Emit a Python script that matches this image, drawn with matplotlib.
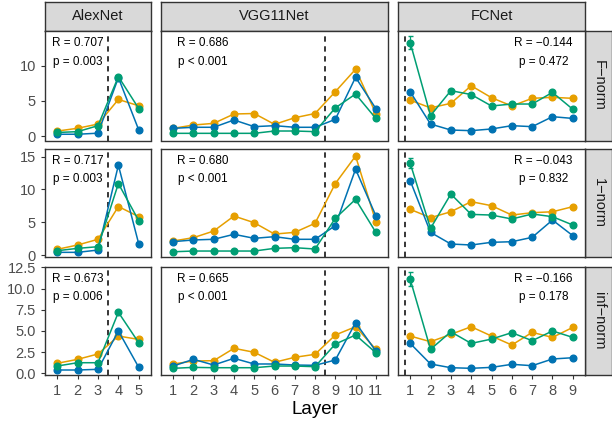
import numpy as np
import matplotlib
matplotlib.use("Agg")
import matplotlib.pyplot as plt

plt.rcParams['font.family'] = ['Liberation Sans', 'DejaVu Sans']

# === DATA ===
nets = ["AlexNet", "VGG11Net", "FCNet"]
norms = ["F\u2212norm", "1\u2212norm", "inf\u2212norm"]
layers_alex = [1, 2, 3, 4, 5]
layers_vgg = [1, 2, 3, 4, 5, 6, 7, 8, 9, 10, 11]
layers_fc = [1, 2, 3, 4, 5, 6, 7, 8, 9]

# F-norm
f_alex_blue = [0.25, 0.25, 0.4, 8.3, 0.85]
f_alex_orange = [0.7, 1.1, 1.7, 5.2, 4.3]
f_alex_green = [0.5, 0.62, 1.47, 8.45, 3.9]
f_vgg_blue = [1.09, 1.24, 1.24, 2.28, 1.33, 1.47, 1.24, 1.24, 2.37, 8.35, 3.9]
f_vgg_orange = [1.09, 1.56, 1.8, 3.13, 3.2, 1.66, 2.6, 3.2, 6.3, 9.5, 3.2]
f_vgg_green = [0.38, 0.38, 0.38, 0.38, 0.38, 0.71, 0.71, 0.62, 4.0, 5.97, 2.5]
f_fc_blue = [6.3, 1.7, 0.85, 0.76, 1.0, 1.47, 1.33, 2.75, 2.5]
f_fc_orange = [5.1, 4.0, 4.65, 7.15, 5.45, 4.27, 5.36, 5.5, 5.36]
f_fc_green = [13.3, 2.9, 6.45, 5.9, 4.27, 4.55, 4.55, 6.2, 3.8]

# 1-norm
o_alex_blue = [0.41, 0.41, 0.76, 13.7, 1.68]
o_alex_orange = [0.87, 1.53, 2.4, 7.4, 5.85]
o_alex_green = [0.66, 1.02, 1.27, 10.9, 5.24]
o_vgg_blue = [2.04, 2.3, 2.4, 3.16, 2.55, 2.8, 2.4, 2.4, 4.48, 13.1, 6.0]
o_vgg_orange = [2.14, 2.65, 3.66, 5.95, 4.93, 3.2, 3.46, 4.84, 10.9, 15.1, 5.1]
o_vgg_green = [0.5, 0.61, 0.61, 0.61, 0.61, 1.02, 1.12, 0.92, 5.6, 8.5, 3.46]
o_fc_blue = [11.35, 3.46, 1.68, 1.53, 1.94, 2.03, 2.7, 5.34, 2.95]
o_fc_orange = [6.97, 5.7, 6.6, 8.14, 7.53, 6.1, 6.46, 6.6, 7.38]
o_fc_green = [14.0, 4.07, 9.3, 6.2, 6.1, 5.5, 6.26, 5.85, 4.58]

# inf-norm
i_alex_blue = [0.39, 0.39, 0.47, 5.0, 0.7]
i_alex_orange = [1.18, 1.65, 2.28, 4.4, 4.0]
i_alex_green = [0.86, 1.25, 1.25, 7.2, 3.6]
i_vgg_blue = [0.86, 1.65, 0.98, 1.77, 1.1, 1.1, 0.98, 0.94, 1.57, 5.97, 2.63]
i_vgg_orange = [1.1, 1.45, 1.49, 2.95, 2.48, 1.3, 1.89, 2.24, 4.52, 5.5, 2.83]
i_vgg_green = [0.59, 0.7, 0.66, 0.66, 0.66, 0.86, 0.86, 0.78, 3.45, 4.52, 2.43]
i_fc_blue = [3.53, 1.1, 0.66, 0.59, 0.7, 1.06, 0.9, 1.69, 1.84]
i_fc_orange = [4.4, 3.73, 4.6, 5.5, 4.4, 3.34, 4.83, 4.24, 5.42]
i_fc_green = [11.1, 2.83, 4.9, 3.53, 4.04, 4.8, 3.85, 5.0, 4.24]

# error bar on first FCNet layer (green), per norm
fc_green_err = [0.9, 0.75, 0.85]

r_values = [["0.707", "0.686", "\u22120.144"],
            ["0.717", "0.680", "\u22120.043"],
            ["0.673", "0.665", "\u22120.166"]]
p_values = [["= 0.003", "< 0.001", "= 0.472"],
            ["= 0.003", "< 0.001", "= 0.832"],
            ["= 0.006", "< 0.001", "= 0.178"]]

layers = [layers_alex, layers_vgg, layers_fc]
series = [
    [(f_alex_orange, f_alex_blue, f_alex_green), (f_vgg_orange, f_vgg_blue, f_vgg_green), (f_fc_orange, f_fc_blue, f_fc_green)],
    [(o_alex_orange, o_alex_blue, o_alex_green), (o_vgg_orange, o_vgg_blue, o_vgg_green), (o_fc_orange, o_fc_blue, o_fc_green)],
    [(i_alex_orange, i_alex_blue, i_alex_green), (i_vgg_orange, i_vgg_blue, i_vgg_green), (i_fc_orange, i_fc_blue, i_fc_green)],
]
colors = ["#E69F00", "#0072B2", "#009E73"]

# === LAYOUT (pixels) ===
W, H = 612, 425
col_px = [(45, 151), (161, 388), (398, 585)]
row_px = [(31, 140.5), (149.3, 257), (267, 375)]
strip_top = (2, 31)
strip_right = (585, 612)
xlims = [(0.4, 5.6), (0.4, 11.6), (0.4, 9.6)]
vlines = [3.5, 8.5, 0.75]
ylims = [(-0.64, 14.94), (-0.3, 16.13), (-0.2, 12.55)]
yticks = [[0, 5, 10], [0, 5, 10, 15], [0, 2.5, 5, 7.5, 10, 12.5]]
ytick_labels = [["0", "5", "10"], ["0", "5", "10", "15"],
                ["0.0", "2.5", "5.0", "7.5", "10.0", "12.5"]]
text_x = [2.0, 2.45, 7.55]

dark = "#333333"
grey_txt = "#4D4D4D"


def rect(x0, x1, y0, y1):
    return [x0 / W, 1 - y1 / H, (x1 - x0) / W, (y1 - y0) / H]


fig = plt.figure(figsize=(W / 100, H / 100), dpi=100)

# strips on top
for c, net in enumerate(nets):
    sa = fig.add_axes(rect(col_px[c][0], col_px[c][1], strip_top[0], strip_top[1]))
    sa.set_facecolor("#D9D9D9")
    sa.set_xticks([]); sa.set_yticks([])
    for s in sa.spines.values():
        s.set_color(dark); s.set_linewidth(1.0)
    sa.text(0.5, 0.5, net, ha="center", va="center", fontsize=10.5, color="#1A1A1A",
            transform=sa.transAxes)

# strips on right
for r, nm in enumerate(norms):
    sa = fig.add_axes(rect(strip_right[0], strip_right[1], row_px[r][0], row_px[r][1]))
    sa.set_facecolor("#D9D9D9")
    sa.set_xticks([]); sa.set_yticks([])
    for s in sa.spines.values():
        s.set_color(dark); s.set_linewidth(1.0)
    sa.text(0.5, 0.5, nm, ha="center", va="center", fontsize=10.5, color="#1A1A1A",
            rotation=-90, transform=sa.transAxes)

for r in range(3):
    for c in range(3):
        ax = fig.add_axes(rect(col_px[c][0], col_px[c][1], row_px[r][0], row_px[r][1]))
        x = layers[c]
        for vals, col in zip(series[r][c], colors):
            ax.plot(x, vals, color=col, lw=1.1, marker="o", markersize=4.8, zorder=3)
        if c == 2:
            ax.errorbar(x[0], series[r][c][2][0], yerr=fc_green_err[r], color=colors[2],
                        lw=0.9, capsize=1.8, zorder=3)
        ax.axvline(vlines[c], color="black", lw=1.1, ls=(0, (3.5, 3)), zorder=2)
        ax.set_xlim(*xlims[c])
        ax.set_ylim(*ylims[r])
        ax.set_xticks(x)
        ax.set_yticks(yticks[r])
        ax.tick_params(colors=dark, labelcolor=grey_txt, labelsize=10.5, length=3, width=0.8)
        if r < 2:
            ax.tick_params(axis="x", length=0, labelbottom=False)
        if c > 0:
            ax.tick_params(axis="y", length=0, labelleft=False)
        else:
            ax.set_yticklabels(ytick_labels[r])
        for s in ax.spines.values():
            s.set_color(dark); s.set_linewidth(1.0)
        ax.text(text_x[c], 0.89, "R = " + r_values[r][c], ha="center", va="center",
                fontsize=8.5, color="black", transform=ax.get_xaxis_transform())
        ax.text(text_x[c], 0.72, "p " + p_values[r][c], ha="center", va="center",
                fontsize=8.5, color="black", transform=ax.get_xaxis_transform())

fig.text(315 / W, 1 - 410 / H, "Layer", ha="center", va="center", fontsize=13.5, color="black")

fig.savefig("out.png", dpi=100)
